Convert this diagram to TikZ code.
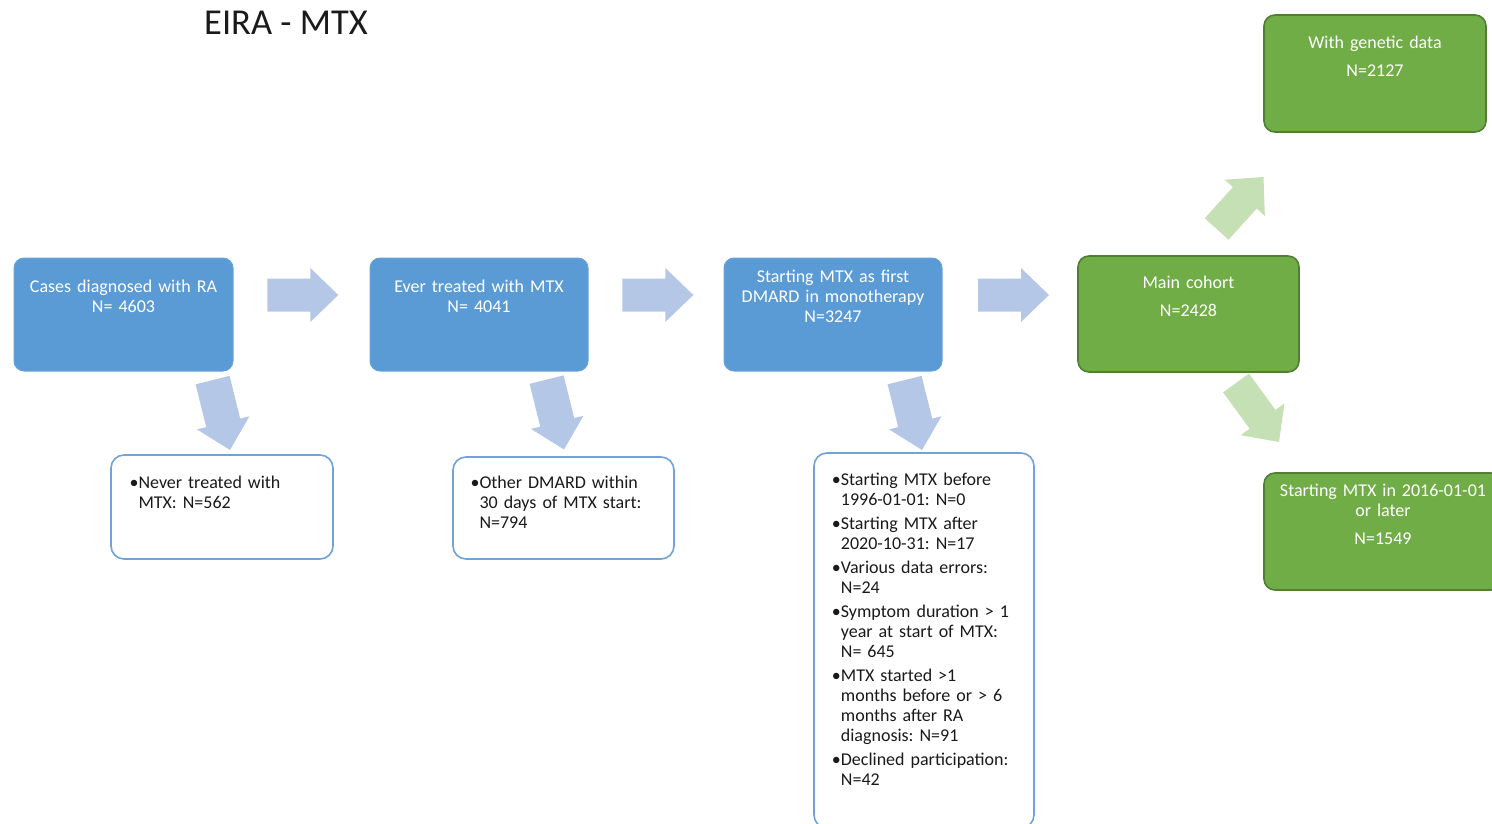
\documentclass[tikz,border=0pt]{standalone}
\usepackage{fontspec}
\setmainfont{Carlito}
\frenchspacing
\definecolor{bluefill}{HTML}{5B9BD5}
\definecolor{blueedge}{HTML}{6AA3D8}
\definecolor{greenfill}{HTML}{70AD47}
\definecolor{greenedge}{HTML}{507E32}
\definecolor{wedge}{HTML}{6FA3D9}
\definecolor{barrow}{HTML}{B4C7E7}
\definecolor{garrow}{HTML}{C5E0B4}
\definecolor{txtdark}{HTML}{1A1A1A}
\newcommand\itm{\leavevmode\llap{•}}
\newcommand\blkarrow[6]{%
  \begin{scope}[shift={(#2,#3)}, rotate=#4]
    \fill[#1] (-#5,-#6/2) -- (-28,-#6/2) -- (-28,-27) -- (0,0) -- (-28,27) -- (-28,#6/2) -- (-#5,#6/2) -- cycle;
  \end{scope}}
\tikzset{
  bluebox/.style={draw=blueedge, fill=bluefill, rounded corners=10pt, line width=1pt, inner sep=0pt},
  greenbox/.style={draw=greenedge, fill=greenfill, rounded corners=11pt, line width=1.6pt, inner sep=0pt},
  whitebox/.style={draw=wedge, fill=white, rounded corners=13pt, line width=1.6pt, inner sep=0pt},
  boxtxt/.style={text=white, font=\fontsize{18}{20}\selectfont\frenchspacing, align=center, inner sep=0pt, text width=236pt, anchor=base},
  listtxt/.style={text=txtdark, font=\fontsize{18}{20}\selectfont\frenchspacing, align=left, inner sep=0pt, text width=200pt, anchor=base west},
}
\begin{document}
\begin{tikzpicture}[x=1pt, y=-1pt]
\useasboundingbox (0,0) rectangle (1492,824);
\clip (0,0) rectangle (1492,824);

% title
\node[anchor=base west, inner sep=0pt, text=txtdark, font=\fontsize{36.5}{40}\selectfont] (title) at (204,35) {EIRA - MTX};

% blue boxes
\node[bluebox, minimum width=219pt, minimum height=113pt] (b1) at (123.5,314.5) {};
\node[bluebox, minimum width=218pt, minimum height=113pt] (b2) at (479,314.5) {};
\node[bluebox, minimum width=218pt, minimum height=113pt] (b3) at (833,314.5) {};
\node[boxtxt] (b1t) at (123.5,292.5) {Cases diagnosed with RA\\N= 4603};
\node[boxtxt] (b2t) at (479,292.5) {Ever treated with MTX\\N= 4041};
\node[boxtxt] (b3t) at (833,282) {Starting MTX as first\\DMARD in monotherapy\\N=3247};

% green boxes
\node[greenbox, minimum width=221pt, minimum height=116pt] (g1) at (1188.5,314) {};
\node[greenbox, minimum width=222pt, minimum height=117pt] (g2) at (1375,73.5) {};
\node[greenbox, minimum width=238pt, minimum height=117pt] (g3) at (1383,531.5) {};
\node[boxtxt] (g1t) at (1188.5,288) {Main cohort\\[8.5pt]N=2428};
\node[boxtxt] (g2t) at (1375,48.3) {With genetic data\\[8.5pt]N=2127};
\node[boxtxt] (g3t) at (1383,496.7) {Starting MTX in 2016-01-01\\or later\\[8pt]N=1549};

% white exclusion boxes
\node[whitebox, minimum width=222pt, minimum height=104pt] (w1) at (222,507) {};
\node[whitebox, minimum width=221pt, minimum height=102pt] (w2) at (563.5,508) {};
\node[whitebox, minimum width=220pt, minimum height=375pt] (w3) at (924,640.5) {};
\node[listtxt] (w1t) at (138.3,488.3) {\itm Never treated with\\MTX: N=562};
\node[listtxt] (w2t) at (479.3,488.3) {\itm Other DMARD within\\30 days of MTX start:\\N=794};
\node[listtxt] (w3t) at (840.7,485) {\itm Starting MTX before\\1996-01-01: N=0\\[4pt]
\itm Starting MTX after\\2020-10-31: N=17\\[4pt]
\itm Various data errors:\\N=24\\[4pt]
\itm Symptom duration > 1\\year at start of MTX:\\N= 645\\[4pt]
\itm MTX started >1\\months before or > 6\\months after RA\\diagnosis: N=91\\[4pt]
\itm Declined participation:\\N=42};

% block arrows
\blkarrow{barrow}{338.3}{295}{0}{71}{33}
\blkarrow{barrow}{693.3}{295}{0}{71}{33}
\blkarrow{barrow}{1049}{295}{0}{71}{33}
\blkarrow{barrow}{230}{450}{-76}{72}{35}
\blkarrow{barrow}{564}{449.5}{-76}{72}{35}
\blkarrow{barrow}{922}{450}{-76}{72}{35}
\blkarrow{garrow}{1263.5}{177}{48}{70}{32}
\blkarrow{garrow}{1279}{442}{-54}{73}{32}
\end{tikzpicture}
\end{document}
